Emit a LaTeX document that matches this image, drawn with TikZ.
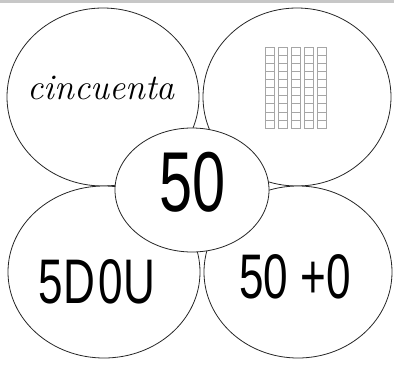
\documentclass[tikz,border=0pt]{standalone}
\usepackage{fontspec}
\usepackage{graphicx}
\newfontfamily\numfont{Liberation Sans}
\begin{document}
\begin{tikzpicture}[x=1pt,y=-1pt,
  petal/.style={draw=black!85,line width=0.8pt,fill=white},
  cell/.style={draw=black!35,line width=0.6pt},
  bignum/.style={font=\numfont\fontsize{85}{85}\selectfont},
  midnum/.style={font=\numfont\fontsize{63}{63}\selectfont},
  word/.style={font=\itshape\fontsize{36}{36}\selectfont}]
\useasboundingbox (0,0) rectangle (394,365);
\fill[black!22] (0,0) rectangle (394,3);
\draw[petal] (103,97) ellipse [x radius=96,y radius=89];
\draw[petal] (297,97) ellipse [x radius=94,y radius=89];
\draw[petal] (104,272) ellipse [x radius=96,y radius=86];
\draw[petal] (298,272) ellipse [x radius=94,y radius=86];
\draw[petal] (192,190) ellipse [x radius=77,y radius=62];
% tens bars
\foreach \i in {0,...,4}{
  \foreach \j in {0,...,9}{
    \draw[cell] (265+13*\i,47+8.1*\j) rectangle ++(9,8.1);
  }
}
\node[word] (w) at (101,88) {cincuenta};
\node[bignum] (c) at (193,182) {\scalebox{0.7}[1]{50}};
\node[midnum] (l) at (97,282) {\scalebox{0.7}[1]{5D\kern0.08em0U}};
\node[midnum] (r) at (295,277) {\scalebox{0.7}[1]{50 +0}};
\end{tikzpicture}
\end{document}
